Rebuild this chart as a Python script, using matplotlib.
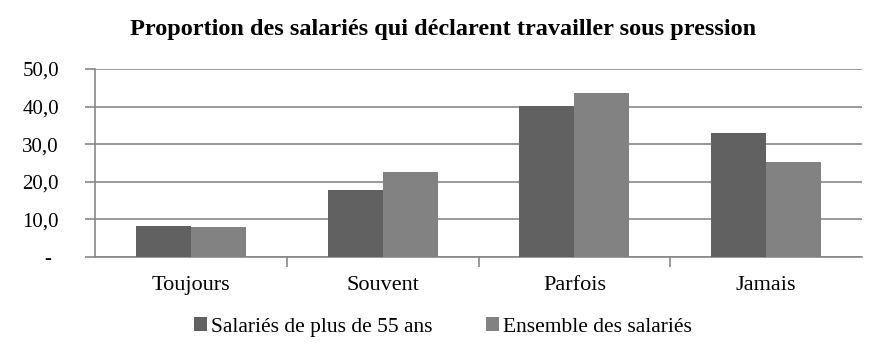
import matplotlib
matplotlib.use("Agg")
import matplotlib.pyplot as plt
import matplotlib.transforms as mtransforms
import numpy as np

categories = ["Toujours", "Souvent", "Parfois", "Jamais"]
series_names = ["Salariés de plus de 55 ans", "Ensemble des salariés"]
plus55 = [8.2, 17.8, 40.2, 33.0]
ensemble = [8.0, 22.6, 43.6, 25.3]
yticks = [0, 10, 20, 30, 40, 50]
ytick_labels = ["-", "10,0", "20,0", "30,0", "40,0", "50,0"]

plt.rcParams['font.family'] = ['Liberation Serif', 'DejaVu Serif']

fig = plt.figure(figsize=(8.86, 3.61), dpi=100)
ax = fig.add_axes([95/886, 1 - 257/361, (862-95)/886, (257-69)/361])

x = np.arange(len(categories))
w = 0.287
ax.bar(x - w/2, plus55, w, color="#616161", label=series_names[0], zorder=3)
ax.bar(x + w/2, ensemble, w, color="#828282", label=series_names[1], zorder=3)

ax.set_xlim(-0.5, len(categories) - 0.5)
ax.set_ylim(0, 50)
ax.set_yticks(yticks)
ax.set_yticklabels(ytick_labels, fontsize=15)
ax.yaxis.grid(True, color="#888888", linewidth=1.2, zorder=0)
ax.tick_params(axis='y', length=7, width=1.2, color="#888888", pad=19)
lbl0 = ax.get_yticklabels()[0]
lbl0.set_transform(lbl0.get_transform() + mtransforms.ScaledTranslation(-8/100, 0, fig.dpi_scale_trans))

ax.set_xticks(x)
ax.set_xticklabels(categories, fontsize=16)
ax.tick_params(axis='x', length=0, pad=14)
ax.set_xticks(np.arange(0.5, len(categories) - 0.5, 1), minor=True)
ax.tick_params(axis='x', which='minor', length=7, width=1.2, color="#888888")

for s in ["top", "right"]:
    ax.spines[s].set_visible(False)
for s in ["left", "bottom"]:
    ax.spines[s].set_color("#888888")
    ax.spines[s].set_linewidth(1.2)

fig.text(0.5, 1 - 30/361, "Proportion des salariés qui déclarent travailler sous pression",
         ha="center", va="center", fontsize=17.5, fontweight="bold")

fig.legend(loc="center", bbox_to_anchor=(0.5, 1 - 327/361), ncol=2, frameon=False,
           fontsize=15.5, handlelength=0.6, handleheight=0.6, handletextpad=0.2,
           columnspacing=2.5)

fig.savefig("out.png", dpi=100)
